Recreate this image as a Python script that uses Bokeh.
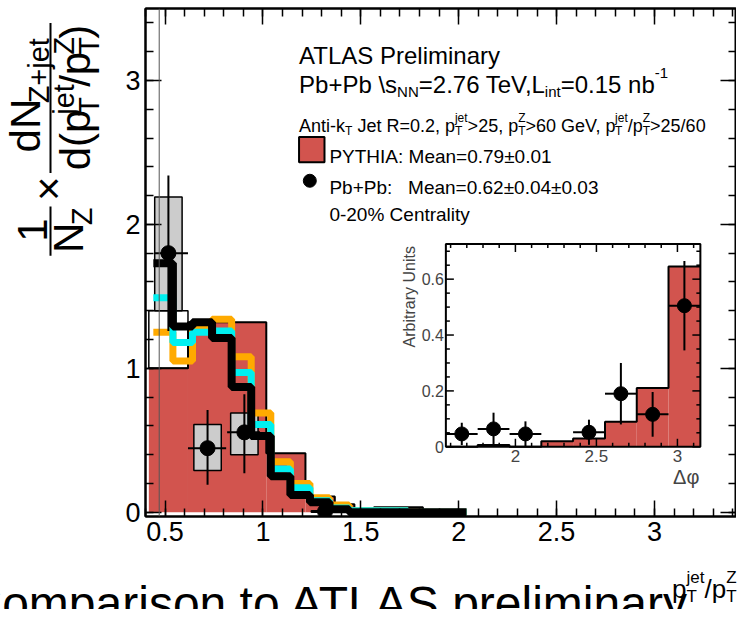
import math
from bokeh.plotting import figure
from bokeh.layouts import row, column
from bokeh.models import (Range1d, LinearAxis, Label, Span, Arrow,
                          SingleIntervalTicker, CustomJSTickFormatter)
from bokeh.embed import file_html
from bokeh.resources import INLINE

# ---------------- data ----------------
model_edges = [0.44, 0.54, 0.64, 0.74, 0.84, 0.94, 1.04, 1.14, 1.24, 1.34, 1.44, 1.74, 2.04]
black_vals  = [1.73, 1.29, 1.32, 1.21, 0.87, 0.53, 0.25, 0.12, 0.07, 0.02, 0.0, 0.0]
orange_vals = [1.25, 1.05, 1.28, 1.34, 1.08, 0.69, 0.35, 0.20, 0.10, 0.05, 0.01, 0.0]
cyan_vals   = [1.49, 1.18, 1.25, 1.26, 0.97, 0.61, 0.30, 0.17, 0.08, 0.03, 0.01, 0.0]

pythia_edges = [0.417, 0.617, 1.017, 1.217, 1.367, 1.467, 1.567, 1.817]
pythia_vals  = [1.00, 1.32, 0.41, 0.11, 0.055, 0.015, 0.035]
pythia_box   = [0.417, 0.617, 1.00, 1.40]   # left, right, bottom, top (outlined box)

data_x    = [0.517, 0.717, 0.905, 1.317]
data_xlo  = [0.447, 0.617, 0.817, 1.267]
data_xhi  = [0.617, 0.812, 0.985, 1.367]
data_y    = [1.80, 0.445, 0.555, 0.005]
stat_lo   = [1.26, 0.19, 0.27, 0.0]
stat_hi   = [2.34, 0.71, 0.82, 0.02]
sys_lo    = [1.40, 0.29, 0.40, 0.0]
sys_hi    = [2.19, 0.61, 0.69, 0.01]

inset_edges  = [1.571, 1.767, 1.963, 2.160, 2.356, 2.553, 2.749, 2.945, 3.142]
inset_pythia = [0.0, 0.006, 0.0, 0.02, 0.03, 0.09, 0.21, 0.645]
inset_x   = [1.669, 1.865, 2.062, 2.454, 2.651, 2.847, 3.043]
inset_y   = [0.046, 0.064, 0.046, 0.052, 0.19, 0.116, 0.505]
inset_err = [0.040, 0.058, 0.045, 0.045, 0.11, 0.080, 0.160]
inset_xerr = 0.098

inset_yticks = [0, 0.2, 0.4, 0.6]
inset_xticks = [2, 2.5, 3]

# ---------------- geometry ----------------
SX, SY = 740 / 756, 609 / 625          # reference picture -> page pixels
YW = 106                                # width of the y-title strip
FL, FT, FW, FH = 145, 8, 591, 508       # main frame (page pixels)
BOT_BORDER = 40
MAIN_H = FT + FH + BOT_BORDER
BOT_H = 609 - MAIN_H
X0, Y1 = 0.4, 3.5
PXX, PXY = 200 * SX, 147.7 * SY
X1 = X0 + FW / PXX
Y0 = Y1 - FH / PXY

def IX(fx):
    return X0 + (fx - FL) / PXX

def IY(fy):
    return Y1 - (fy - FT) / PXY

IL, IR, IT, IB = 455 * SX, 715 * SX, 250 * SY, 458 * SY
I_XMIN, I_XMAX, I_YMIN, I_YMAX = 1.5708, 3.1416, 0.0, 0.7255
ISX = (I_XMAX - I_XMIN) / (IR - IL)
ISY = (I_YMAX - I_YMIN) / (IB - IT)
ix_range = Range1d(I_XMIN - (IL - FL) * ISX, I_XMAX + (FL + FW - IR) * ISX)
iy_range = Range1d(I_YMIN - (FT + FH - IB) * ISY, I_YMAX + (IT - FT) * ISY)

FONT = "Liberation Sans"
RED = "#d2544e"

# ---------------- main figure ----------------
p = figure(frame_width=FW, frame_height=FH, x_range=Range1d(X0, X1), y_range=Range1d(Y0, Y1),
           output_backend="svg", toolbar_location=None,
           min_border_left=FL - YW, min_border_right=0, min_border_top=FT,
           min_border_bottom=BOT_BORDER)
p.extra_x_ranges = {"ix": ix_range}
p.extra_y_ranges = {"iy": iy_range}
p.grid.visible = False
p.outline_line_color = "black"
p.outline_line_width = 2

def style_axis(ax, labels=True):
    ax.axis_line_width = 2
    ax.axis_line_color = "black"
    ax.major_tick_in = 16
    ax.major_tick_out = 0
    ax.minor_tick_in = 8
    ax.minor_tick_out = 0
    ax.major_tick_line_width = 1.5
    ax.minor_tick_line_width = 1.5
    if labels:
        ax.major_label_text_font = FONT
        ax.major_label_text_font_size = "27px"
        ax.major_label_text_color = "black"
        ax.major_label_standoff = 5
    else:
        ax.major_label_text_font_size = "0px"
        ax.major_label_standoff = 0
        ax.formatter = CustomJSTickFormatter(code="return '';")

p.xaxis.ticker = SingleIntervalTicker(interval=0.5, num_minor_ticks=5)
p.yaxis.ticker = SingleIntervalTicker(interval=1, num_minor_ticks=5)
p.xaxis.formatter = CustomJSTickFormatter(code="return tick.toString();")
style_axis(p.xaxis[0])
style_axis(p.yaxis[0])
ra = LinearAxis(ticker=SingleIntervalTicker(interval=1, num_minor_ticks=5))
ta = LinearAxis(ticker=SingleIntervalTicker(interval=0.5, num_minor_ticks=5))
style_axis(ra, labels=False)
style_axis(ta, labels=False)
p.add_layout(ra, "right")
p.add_layout(ta, "above")

p.add_layout(Span(location=0.47, dimension="height", line_color="#555555", line_width=1))

p.quad(left=pythia_edges[:-1], right=pythia_edges[1:], bottom=0, top=pythia_vals,
       fill_color=RED, line_color=None)
p.step(x=pythia_edges, y=pythia_vals + [0.0], mode="after", line_color="black", line_width=2)
p.quad(left=[pythia_box[0]], right=[pythia_box[1]], bottom=[pythia_box[2]], top=[pythia_box[3]],
       fill_color=None, line_color="black", line_width=1.5)

SYS_HW = 0.07
p.quad(left=[x - SYS_HW for x in data_x], right=[x + SYS_HW for x in data_x],
       bottom=sys_lo, top=sys_hi, fill_color="#cccccc", line_color="black", line_width=1.5)

p.step(x=model_edges, y=orange_vals + [orange_vals[-1]], mode="after", line_color="#ffaa00", line_width=7)
p.step(x=model_edges, y=cyan_vals + [cyan_vals[-1]], mode="after", line_color="#00f0f0", line_width=7)
p.step(x=model_edges, y=black_vals + [black_vals[-1]], mode="after", line_color="black", line_width=8)

p.segment(x0=data_xlo, x1=data_xhi, y0=data_y, y1=data_y, line_color="black", line_width=2)
p.segment(x0=data_x, x1=data_x, y0=stat_lo, y1=stat_hi, line_color="black", line_width=2)
p.scatter(x=data_x, y=data_y, size=15, color="black")

# ---------------- inset ----------------
kw = dict(x_range_name="ix", y_range_name="iy")
p.quad(left=[I_XMIN], right=[I_XMAX], bottom=[I_YMIN], top=[I_YMAX],
       fill_color="white", line_color=None, **kw)
p.quad(left=inset_edges[:-1], right=inset_edges[1:], bottom=0, top=inset_pythia,
       fill_color=RED, line_color=None, **kw)
p.step(x=inset_edges, y=inset_pythia + [inset_pythia[-1]], mode="after",
       line_color="black", line_width=2, **kw)
maj_x, min_x = 8 * ISY, 4 * ISY
maj_y, min_y = 8 * ISX, 4 * ISX
xt = [round(1.6 + 0.1 * k, 2) for k in range(16)]
yt = [round(0.05 * k, 2) for k in range(15)]
xlen = [maj_x if abs(v * 2 - round(v * 2)) < 1e-6 else min_x for v in xt]
ylen = [maj_y if abs(v * 5 - round(v * 5)) < 1e-6 else min_y for v in yt]
p.segment(x0=xt, x1=xt, y0=[I_YMIN] * len(xt), y1=[I_YMIN + l for l in xlen], line_color="black", line_width=1.5, **kw)
p.segment(x0=xt, x1=xt, y0=[I_YMAX] * len(xt), y1=[I_YMAX - l for l in xlen], line_color="black", line_width=1.5, **kw)
p.segment(x0=[I_XMIN] * len(yt), x1=[I_XMIN + l for l in ylen], y0=yt, y1=yt, line_color="black", line_width=1.5, **kw)
p.segment(x0=[I_XMAX] * len(yt), x1=[I_XMAX - l for l in ylen], y0=yt, y1=yt, line_color="black", line_width=1.5, **kw)
p.quad(left=[I_XMIN], right=[I_XMAX], bottom=[I_YMIN], top=[I_YMAX],
       fill_color=None, line_color="black", line_width=2, **kw)
p.segment(x0=[x - inset_xerr for x in inset_x], x1=[x + inset_xerr for x in inset_x],
          y0=inset_y, y1=inset_y, line_color="black", line_width=2, **kw)
p.segment(x0=inset_x, x1=inset_x, y0=[y - e for y, e in zip(inset_y, inset_err)],
          y1=[y + e for y, e in zip(inset_y, inset_err)], line_color="black", line_width=2, **kw)
p.scatter(x=inset_x, y=inset_y, size=14, color="black", **kw)

for v in inset_yticks:
    p.add_layout(Label(x=I_XMIN - 2 * ISX, y=v, text=("0" if v == 0 else f"{v:g}"),
                       text_font=FONT, text_font_size="16px", text_align="right",
                       text_baseline="middle", **kw))
for v in inset_xticks:
    p.add_layout(Label(x=v, y=I_YMIN - 3 * ISY, text=f"{v:g}", text_font=FONT,
                       text_font_size="17px", text_align="center", text_baseline="top", **kw))
p.add_layout(Label(x=IX(418 * SX), y=IY(252 * SY), text="Arbitrary Units", angle=math.pi / 2,
                   text_font=FONT, text_font_size="16px", text_align="right",
                   text_baseline="middle"))
p.add_layout(Label(x=IX(714 * SX), y=IY(489 * SY), text="\u0394\u03c6", text_font=FONT,
                   text_font_size="20px", text_align="right", text_baseline="alphabetic"))

# ---------------- strips for texts outside the frame ----------------
yfig = figure(width=YW, height=MAIN_H, x_range=Range1d(0, YW), y_range=Range1d(MAIN_H, 0),
              output_backend="svg", toolbar_location=None, x_axis_type=None, y_axis_type=None,
              min_border=0)
yfig.outline_line_color = None
yfig.grid.visible = False

bot = figure(width=740, height=BOT_H, x_range=Range1d(0, 740), y_range=Range1d(BOT_H, 0),
             output_backend="svg", toolbar_location=None, x_axis_type=None, y_axis_type=None,
             min_border=0)
bot.outline_line_color = None
bot.grid.visible = False

CONV = {
    "main": (p, lambda fx, fy: (IX(fx), IY(fy))),
    "y": (yfig, lambda fx, fy: (fx, fy)),
    "bot": (bot, lambda fx, fy: (fx, fy - MAIN_H)),
}

# ---------------- rich text helper ----------------
CW = {' ': 278, '\u00a0': 278, '%': 889, '(': 333, ')': 333, '+': 584, ',': 278, '-': 333,
      '.': 278, '/': 278, ':': 278, '=': 584, '>': 584, '\\': 278, '\u00b1': 584, '\u00d7': 584,
      'A': 667, 'C': 722, 'G': 778, 'H': 722, 'I': 278, 'J': 500, 'L': 556, 'M': 833,
      'N': 722, 'P': 667, 'R': 722, 'S': 667, 'T': 611, 'V': 667, 'Y': 667, 'Z': 611,
      'a': 556, 'b': 556, 'c': 500, 'd': 556, 'e': 556, 'i': 222, 'j': 222, 'k': 500,
      'l': 222, 'm': 833, 'n': 556, 'o': 556, 'p': 556, 'r': 333, 's': 500, 't': 278, 'y': 500}
KERN = {"Te": -111, "V,": -111, "AT": -74, "LT": -74, "P,": -111}

def tw(s, size):
    w = sum(CW.get(c, 556) for c in s)
    w += sum(KERN.get(s[i:i + 2], 0) for i in range(len(s) - 1))
    return w / 1000.0 * size

def keep_spaces(s):
    if s.startswith(" ") or s.endswith(" ") or "  " in s:
        return s.replace(" ", "\u00a0")
    return s

def rich(where, x0, y0, segs, size, angle=0.0, align="left", small=None,
         page=False, sub_k=0.28, sup_k=0.45):
    """Horizontal: (x0, y0) is the baseline start.  Rotated: x0 is the centre line."""
    fig, conv = CONV[where]
    small = small or round(size * 0.65)
    px, py = (x0, y0) if page else (x0 * SX, y0 * SY)

    def seg_w(s):
        if isinstance(s, str):
            return tw(s, size)
        if s[0] == "subsup":
            return max(tw(s[1], small), tw(s[2], small))
        return tw(s[1], small)

    total = sum(seg_w(s) for s in segs)
    pos = {"left": 0.0, "center": -total / 2, "right": -total}[align]
    for s in segs:
        if isinstance(s, str):
            items = [(s, size, 0.0)]
        elif s[0] == "sub":
            items = [(s[1], small, -sub_k * size)]
        elif s[0] == "sup":
            items = [(s[1], small, sup_k * size)]
        else:
            items = [(s[1], small, -sub_k * size), (s[2], small, sup_k * size)]
        for txt, sz, sh in items:
            if angle == 0:
                x, y = px + pos, py - sh
                base = "alphabetic"
            else:
                b = px + 0.35 * size
                x, y = b - sh - 0.35 * sz, py - pos
                base = "middle"
            dx, dy = conv(x, y)
            fig.add_layout(Label(x=dx, y=dy, text=keep_spaces(txt), angle=angle, text_font=FONT,
                                 text_font_size=f"{sz}px", text_align="left",
                                 text_baseline=base, text_color="black"))
        pos += seg_w(s)
    return total

# ---------------- header texts ----------------
rich("main", 305, 56, ["ATLAS Preliminary"], 24)
rich("main", 305, 86, ["Pb+Pb \\s", ("sub", "NN"), "=2.76 TeV,L", ("sub", "int"), "=0.15 nb",
                       ("sup", "-1")], 24, small=15)
rich("main", 305, 129, ["Anti-k", ("sub", "T"), " Jet R=0.2, p", ("subsup", "T", "jet"), ">25, p",
                        ("subsup", "T", "Z"), ">60 GeV, p", ("subsup", "T", "jet"), "/p",
                        ("subsup", "T", "Z"), ">25/60"], 18, small=12)
p.quad(left=[IX(305 * SX)], right=[IX(331 * SX)], bottom=[IY(166 * SY)], top=[IY(140 * SY)],
       fill_color=RED, line_color="black", line_width=2)
rich("main", 336, 160, ["PYTHIA: Mean=0.79\u00b10.01"], 19)
p.scatter(x=[IX(316 * SX)], y=[IY(185 * SY)], size=13, color="black")
rich("main", 336, 192, ["Pb+Pb:   Mean=0.62\u00b10.04\u00b10.03"], 19)
rich("main", 336, 220, ["0-20% Centrality"], 19)

# x-axis title
rich("bot", 752, 604, ["p", ("subsup", "T", "jet"), "/p", ("subsup", "T", "Z")], 26,
     align="right", small=17)

# y-axis title: 1/N_Z x dN_{Z+jet} / d(pT_jet/pT_Z), rotated (page pixels)
TS, TSS = 42, 29
BAR_X = 50
tk = dict(angle=math.pi / 2, align="center", small=TSS, page=True, sub_k=0.22, sup_k=0.38)
den = ["d(p", ("subsup", "T", "jet"), "/p", ("subsup", "T", "Z"), ")"]
den_len = sum(tw(s, TS) if isinstance(s, str) else max(tw(s[1], TSS), tw(s[2], TSS)) for s in den)
top = 16
bar1 = (top, top + den_len + 6)
c1 = (bar1[0] + bar1[1]) / 2
rich("y", 25, c1, ["dN", ("sub", "Z+jet")], TS, **tk)
rich("y", 75, c1, den, TS, **tk)
yfig.add_layout(Arrow(x_start=BAR_X, y_start=bar1[0], x_end=BAR_X, y_end=bar1[1],
                      start=None, end=None, line_color="black", line_width=2))
cx = bar1[1] + 6 + tw("\u00d7", TS) / 2
rich("y", BAR_X - 2, cx, ["\u00d7"], TS, **tk)
nz_len = tw("N", TS) + tw("Z", TSS)
bar2 = (cx + tw("\u00d7", TS) / 2 + 6, cx + tw("\u00d7", TS) / 2 + 6 + nz_len + 6)
c2 = (bar2[0] + bar2[1]) / 2
rich("y", 32, c2, ["1"], TS, **tk)
rich("y", 68, c2, ["N", ("sub", "Z")], TS, **tk)
yfig.add_layout(Arrow(x_start=BAR_X, y_start=bar2[0], x_end=BAR_X, y_end=bar2[1],
                      start=None, end=None, line_color="black", line_width=2))

# slide caption, clipped at the left and bottom edges as in the picture
bot.add_layout(Label(x=-33, y=619 * SY - MAIN_H, text="Comparison to ATLAS preliminary",
                     text_font=FONT, text_font_size="48px", text_align="left",
                     text_baseline="alphabetic", text_color="black"))

layout = column(row(yfig, p), bot)
open("out.html", "w").write(file_html(layout, INLINE))
